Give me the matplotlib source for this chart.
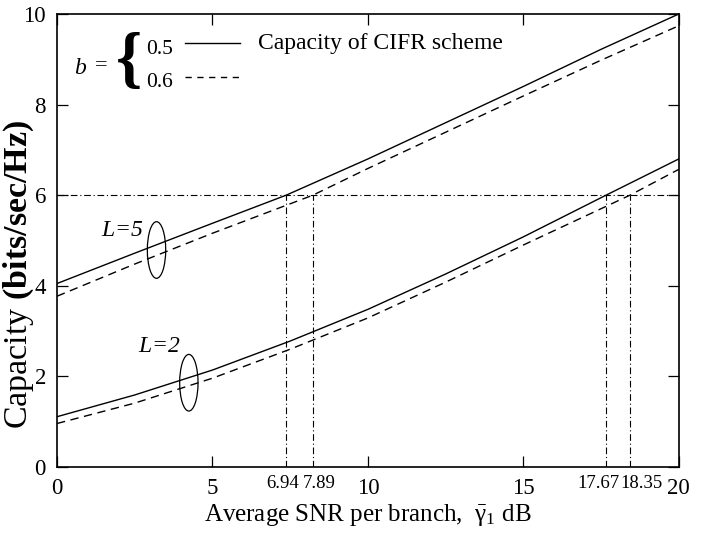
import numpy as np
from matplotlib import pyplot as plt
from matplotlib.patches import Ellipse

plt.rcParams['font.family'] = ['Liberation Serif', 'DejaVu Serif']
plt.rcParams['mathtext.fontset'] = 'custom'
plt.rcParams['mathtext.rm'] = 'Liberation Serif'
plt.rcParams['mathtext.it'] = 'Liberation Serif:italic'
plt.rcParams['mathtext.bf'] = 'Liberation Serif:bold'

# capacity curves
x_l5_a = [0, 2.5, 5, 7.37, 10, 12.5, 15, 17.5, 20]
c_l5_a = [4.05, 4.72, 5.38, 6.0, 6.80, 7.60, 8.40, 9.22, 10.0]
x_l5_b = [0, 2.5, 5, 8.23, 10, 12.5, 15, 17.5, 20]
c_l5_b = [3.77, 4.48, 5.16, 6.0, 6.59, 7.39, 8.19, 8.98, 9.74]
x_l2_a = [0, 2.5, 5, 7.5, 10, 12.5, 15, 17.66, 20]
c_l2_a = [1.11, 1.59, 2.14, 2.78, 3.48, 4.26, 5.08, 6.0, 6.80]
x_l2_b = [0, 2.5, 5, 7.5, 10, 12.5, 15, 18.43, 20]
c_l2_b = [0.96, 1.41, 1.96, 2.60, 3.29, 4.08, 4.90, 6.0, 6.57]

target = 6
cross_x = [7.37, 8.23, 17.66, 18.43]
cross_labels = ['6.94', '7.89', '17.67', '18.35']
cross_label_x = [7.27, 8.44, 17.43, 18.8]
xticks = [0, 5, 10, 15, 20]
yticks = [0, 2, 4, 6, 8, 10]

fig = plt.figure(figsize=(7.13, 5.34), dpi=100)
ax = fig.add_axes([0.08, 0.1255, 0.872, 0.8483])

dash = (0, (6, 4))
dashdot = (0, (6, 2.5, 1, 2.5))
ax.plot(x_l5_a, c_l5_a, 'k-', lw=1.0)
ax.plot(x_l5_b, c_l5_b, color='k', ls=dash, lw=1.0)
ax.plot(x_l2_a, c_l2_a, 'k-', lw=1.0)
ax.plot(x_l2_b, c_l2_b, color='k', ls=dash, lw=1.0)

ax.axhline(target, color='k', ls=dashdot, lw=0.8)
ax.vlines(cross_x, 0, target, colors='k', linestyles=[dashdot], lw=0.8)

# crossing labels under the axis
for xl, lab in zip(cross_label_x, cross_labels):
    ax.text(xl, -0.17, lab, fontsize=13.5, ha='center', va='top')

# group markers
ax.add_patch(Ellipse((3.2, 4.79), 0.59, 1.25, fill=False, lw=0.9))
ax.add_patch(Ellipse((4.24, 1.86), 0.59, 1.25, fill=False, lw=0.9))
ax.text(2.1, 5.23, '$L$=5', fontsize=17, style='italic', ha='center', va='center')
ax.text(3.3, 2.66, '$L$=2', fontsize=17, style='italic', ha='center', va='center')

# legend drawn by hand
ax.text(0.74, 8.68, 'b', fontsize=17, style='italic', ha='center', va='baseline')
ax.text(1.42, 8.85, '=', fontsize=16, ha='center', va='center')
ax.text(2.3, 8.93, '{', fontsize=48, ha='center', va='center', weight='bold')
ax.text(2.88, 9.12, '0.5', fontsize=15.5, ha='left', va='baseline')
ax.text(2.88, 8.39, '0.6', fontsize=15.5, ha='left', va='baseline')
ax.plot([4.12, 5.88], [9.35, 9.35], 'k-', lw=1.0)
ax.plot([4.12, 5.88], [8.6, 8.6], color='k', ls=(0, (4.5, 4)), lw=1.0)
ax.text(6.46, 9.23, 'Capacity of CIFR scheme', fontsize=17, ha='left', va='baseline')

ax.set_xlim(0, 20)
ax.set_ylim(0, 10)
ax.set_xticks(xticks)
ax.set_yticks(yticks)
ax.tick_params(which='major', direction='in', length=8, width=0.9,
               top=True, right=True, labelsize=16.5)
ax.tick_params(axis='x', which='major', pad=8)
ax.tick_params(axis='y', which='major', pad=8)
for s in ax.spines.values():
    s.set_linewidth(1.2)

ax.set_xlabel(r'Average SNR per branch,  $\bar{\mathrm{\gamma}}_1$ dB', fontsize=18, labelpad=2)
ax.set_ylabel(r'Capacity $\mathbf{(bits/sec/Hz)}$', fontsize=24.5)
ax.yaxis.set_label_coords(-0.034, 0.426)

fig.savefig('out.png', dpi=100)
